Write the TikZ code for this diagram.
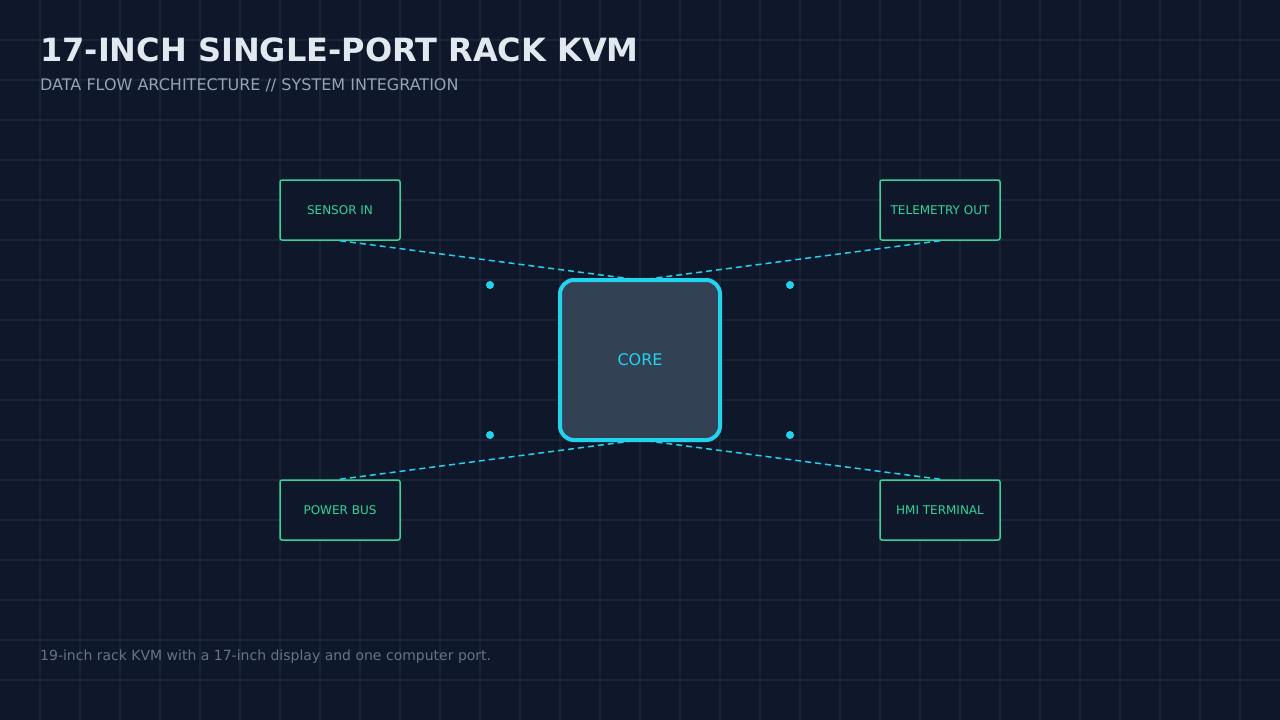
\documentclass[tikz,border=0pt]{standalone}
\usepackage{fontspec}
\setmainfont{DejaVu Sans}
\definecolor{bgc}{HTML}{0F172A}
\definecolor{gridc}{HTML}{1A2435}
\definecolor{titlec}{HTML}{E2E8F0}
\definecolor{subc}{HTML}{94A3B8}
\definecolor{footc}{HTML}{64748B}
\definecolor{greenc}{HTML}{34D399}
\definecolor{cyanc}{HTML}{22D3EE}
\definecolor{corec}{HTML}{334155}
\tikzset{
  portbox/.style={draw=greenc, line width=1.5pt, fill=bgc, rounded corners=2pt,
    minimum width=120pt, minimum height=60pt, text=greenc, font=\fontsize{12}{14}\selectfont},
  corebox/.style={draw=cyanc, line width=4pt, fill=corec, rounded corners=14pt,
    minimum width=160pt, minimum height=160pt, text=cyanc, font=\fontsize{16}{18}\selectfont},
  flow/.style={cyanc, line width=1.5pt, dash pattern=on 6pt off 4pt},
  dotmark/.style={circle, fill=cyanc, inner sep=0pt, minimum size=8pt}
}
\begin{document}
\begin{tikzpicture}[x=1pt, y=-1pt]
  \fill[bgc] (0,0) rectangle (1280,720);
  \useasboundingbox (0,0) rectangle (1280,720);
  \foreach \gx in {40,80,...,1240} \draw[gridc, line width=2pt] (\gx,0) -- (\gx,720);
  \foreach \gy in {40,80,...,680} \draw[gridc, line width=2pt] (0,\gy) -- (1280,\gy);

  \node[anchor=base west, inner sep=0pt, text=titlec, font=\fontsize{32}{36}\selectfont\bfseries] (title) at (40,61) {17-INCH SINGLE-PORT RACK KVM};
  \node[anchor=base west, inner sep=0pt, text=subc, font=\fontsize{16}{18}\selectfont] (subtitle) at (40,90) {DATA FLOW ARCHITECTURE // SYSTEM INTEGRATION};
  \node[anchor=base west, inner sep=0pt, text=footc, font=\fontsize{14}{16}\selectfont] (footer) at (40,660) {19-inch rack KVM with a 17-inch display and one computer port.};

  % connectors
  \coordinate (cnw) at (632,279);
  \coordinate (cne) at (648,279);
  \coordinate (csw) at (632,441);
  \coordinate (cse) at (648,441);
  \node[portbox] (sensor) at (340,210) {SENSOR IN};
  \node[portbox] (telemetry) at (940,210) {TELEMETRY OUT};
  \node[portbox] (power) at (340,510) {POWER BUS};
  \node[portbox] (hmi) at (940,510) {HMI TERMINAL};
  \draw[flow] (sensor.south) -- (cnw);
  \draw[flow] (telemetry.south) -- (cne);
  \draw[flow] (power.north) -- (csw);
  \draw[flow] (hmi.north) -- (cse);
  \node[corebox] (core) at (640,360) {CORE};

  \node[dotmark] (dnw) at (490,285) {};
  \node[dotmark] (dne) at (790,285) {};
  \node[dotmark] (dsw) at (490,435) {};
  \node[dotmark] (dse) at (790,435) {};
\end{tikzpicture}
\end{document}
